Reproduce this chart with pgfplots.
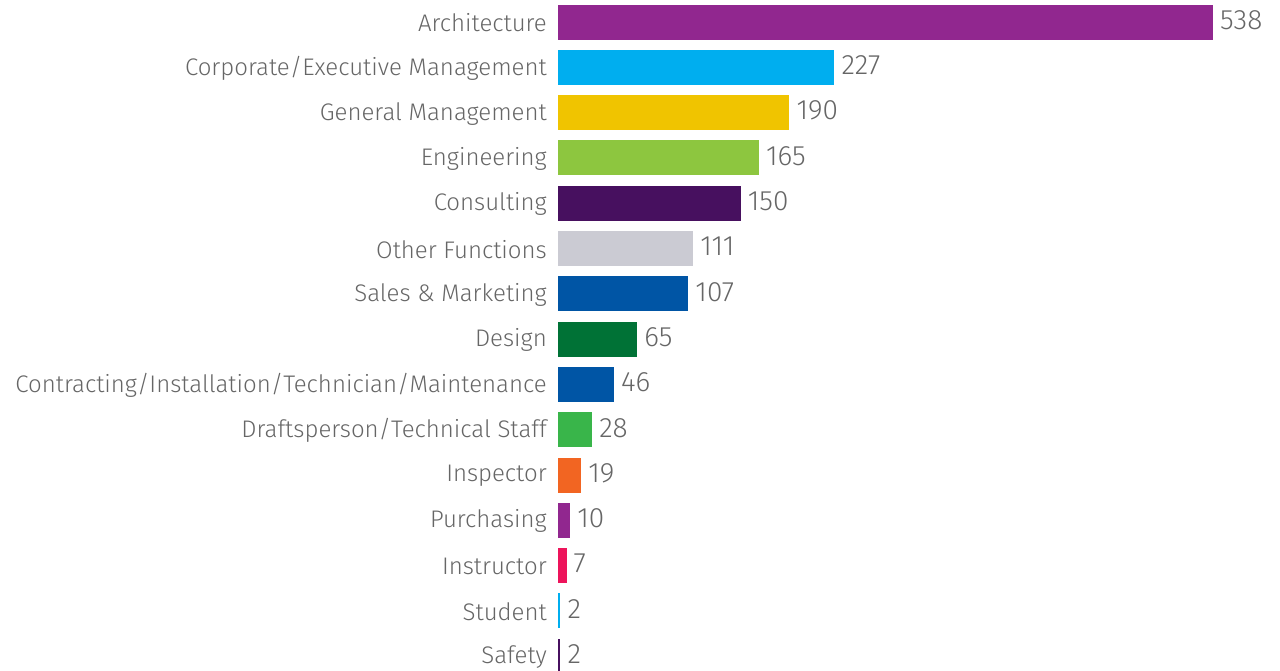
\documentclass[border=0pt]{standalone}
\usepackage{fontspec}
\setmainfont{Fira Sans}[UprightFont={* Light}]
\usepackage{pgfplots}
\pgfplotsset{compat=1.18}

\definecolor{labelgray}{HTML}{666666}
\definecolor{cArch}{HTML}{91278F}
\definecolor{cCyan}{HTML}{00AEEF}
\definecolor{cYellow}{HTML}{F0C400}
\definecolor{cLime}{HTML}{8DC63F}
\definecolor{cPlum}{HTML}{47105F}
\definecolor{cGrey}{HTML}{CBCBD3}
\definecolor{cBlue}{HTML}{0055A5}
\definecolor{cDGreen}{HTML}{007236}
\definecolor{cGreen}{HTML}{39B54A}
\definecolor{cOrange}{HTML}{F26522}
\definecolor{cPink}{HTML}{ED145B}

\begin{document}
\begin{tikzpicture}
\begin{axis}[
  name=ax,
  scale only axis,
  width=655pt, height=679.5pt,
  xmin=0, xmax=538,
  ymin=-0.5, ymax=14.5,
  y dir=reverse,
  xbar, bar width=35pt, bar shift=0pt,
  clip=false,
  axis line style={draw=none},
  major tick length=0pt,
  xtick=\empty,
  ytick={0,...,14},
  yticklabels={Architecture,Corporate/Executive Management,General Management,
    Engineering,Consulting,Other Functions,Sales \& Marketing,Design,
    Contracting/Installation/Technician/Maintenance,Draftsperson/Technical Staff,
    Inspector,Purchasing,Instructor,Student,Safety},
  yticklabel style={font=\fontsize{24}{28}\selectfont, text=labelgray,
    inner sep=0pt, xshift=-11pt, yshift=-1pt},
  /pgf/number format/assume math mode=true,
  nodes near coords,
  nodes near coords style={font=\fontsize{28}{32}\selectfont, text=labelgray,
    anchor=west, inner sep=0pt, xshift=7pt, yshift=2pt},
]
\addplot[fill=cArch, draw=none] coordinates {(538,0)};
\addplot[fill=cCyan, draw=none] coordinates {(227,1)};
\addplot[fill=cYellow, draw=none] coordinates {(190,2)};
\addplot[fill=cLime, draw=none] coordinates {(165,3)};
\addplot[fill=cPlum, draw=none] coordinates {(150,4)};
\addplot[fill=cGrey, draw=none] coordinates {(111,5)};
\addplot[fill=cBlue, draw=none] coordinates {(107,6)};
\addplot[fill=cDGreen, draw=none] coordinates {(65,7)};
\addplot[fill=cBlue, draw=none] coordinates {(46,8)};
\addplot[fill=cGreen, draw=none] coordinates {(28,9)};
\addplot[fill=cOrange, draw=none] coordinates {(19,10)};
\addplot[fill=cArch, draw=none] coordinates {(10,11)};
\addplot[fill=cPink, draw=none] coordinates {(7,12)};
\addplot[fill=cCyan, draw=none] coordinates {(2,13)};
\addplot[fill=cPlum, draw=none] coordinates {(2,14)};
\end{axis}
\pgfresetboundingbox
\path ([shift={(-558pt,8.9pt)}]ax.south west) rectangle ([shift={(722pt,678.9pt)}]ax.south west);
\end{tikzpicture}
\end{document}
